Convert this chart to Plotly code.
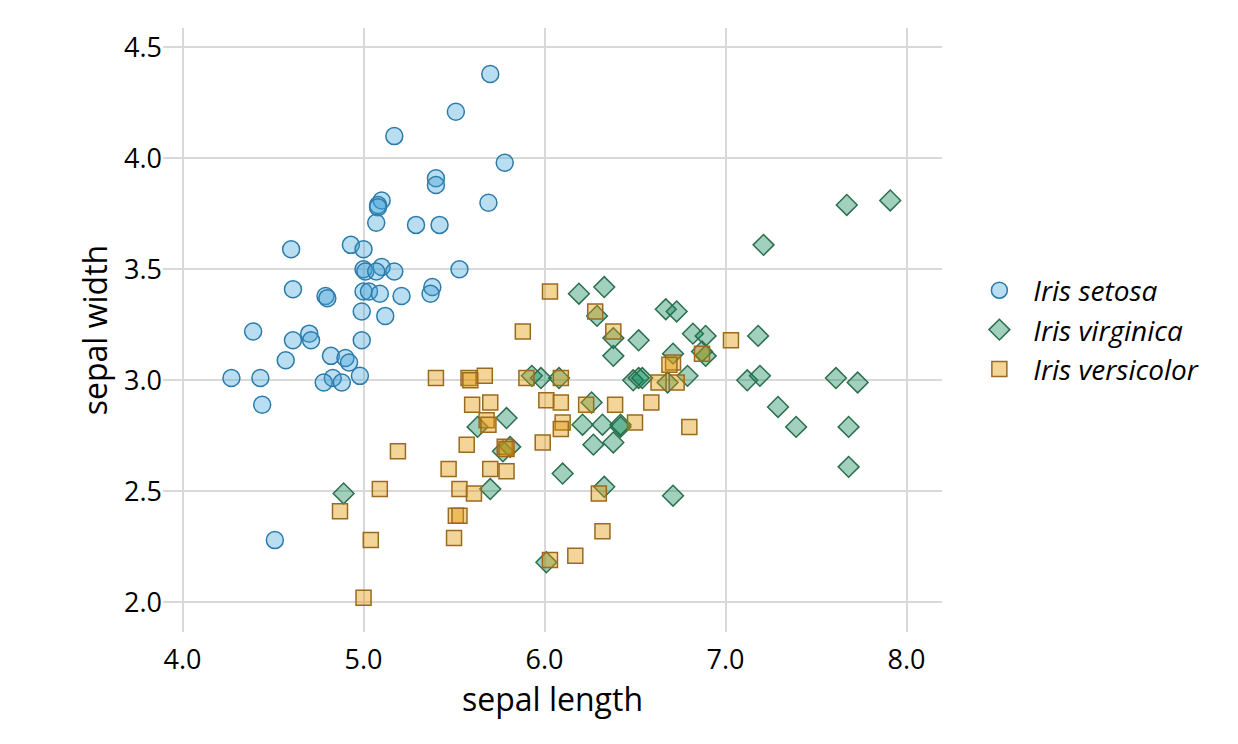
import plotly.graph_objects as go

# values (jittered iris data)
setosa_len = [5.70, 5.51, 5.17, 5.78, 5.40, 5.40, 5.10, 5.08, 5.08, 5.69,
              5.07, 5.29, 5.42, 4.60, 4.93, 5.00, 5.00, 5.01, 5.10, 5.07,
              5.17, 5.53, 4.61, 4.79, 4.80, 5.00, 5.03, 5.09, 5.21, 5.38,
              5.37, 4.99, 5.12, 4.39, 4.70, 4.71, 4.61, 4.99, 4.57, 4.82,
              4.90, 4.92, 4.27, 4.43, 4.83, 4.78, 4.88, 4.98, 4.44, 4.51]
setosa_wid = [4.38, 4.21, 4.10, 3.98, 3.91, 3.88, 3.81, 3.79, 3.78, 3.80,
              3.71, 3.70, 3.70, 3.59, 3.61, 3.59, 3.50, 3.49, 3.51, 3.49,
              3.49, 3.50, 3.41, 3.38, 3.37, 3.40, 3.40, 3.39, 3.38, 3.42,
              3.39, 3.31, 3.29, 3.22, 3.21, 3.18, 3.18, 3.18, 3.09, 3.11,
              3.10, 3.08, 3.01, 3.01, 3.01, 2.99, 2.99, 3.02, 2.89, 2.28]

virginica_len = [4.89, 5.79, 5.63, 5.77, 5.81, 5.70, 5.93, 6.19, 6.33, 6.29,
                 6.38, 6.52, 6.38, 6.67, 6.73, 6.82, 6.89, 6.71, 6.87, 6.89,
                 5.98, 6.08, 6.49, 6.52, 6.54, 6.68, 6.79, 6.26, 6.21, 6.32,
                 6.42, 6.42, 6.27, 6.38, 6.10, 6.33, 6.71, 6.01, 7.67, 7.91,
                 7.21, 7.18, 7.12, 7.19, 7.61, 7.73, 7.29, 7.39, 7.68, 7.68]
virginica_wid = [2.49, 2.83, 2.79, 2.68, 2.70, 2.51, 3.02, 3.39, 3.42, 3.29,
                 3.19, 3.18, 3.11, 3.32, 3.31, 3.21, 3.20, 3.12, 3.13, 3.11,
                 3.01, 3.01, 3.00, 3.01, 3.01, 2.99, 3.02, 2.90, 2.80, 2.80,
                 2.80, 2.79, 2.71, 2.72, 2.58, 2.52, 2.48, 2.18, 3.79, 3.81,
                 3.61, 3.20, 3.00, 3.02, 3.01, 2.99, 2.88, 2.79, 2.79, 2.61]

versicolor_len = [5.88, 5.40, 5.58, 5.59, 5.67, 5.90, 5.60, 5.70, 5.68, 5.69,
                  5.57, 5.19, 5.47, 5.70, 5.79, 5.78, 5.09, 5.53, 5.61, 4.87,
                  5.51, 5.53, 5.50, 5.04, 5.00, 6.03, 6.28, 6.38, 6.71, 6.69,
                  6.87, 6.09, 6.63, 6.73, 6.01, 6.09, 6.23, 6.39, 6.59, 6.10,
                  6.09, 6.50, 6.80, 5.99, 6.30, 6.32, 6.17, 6.03, 7.03, 5.79]
versicolor_wid = [3.22, 3.01, 3.01, 3.00, 3.02, 3.01, 2.89, 2.90, 2.82, 2.80,
                  2.71, 2.68, 2.60, 2.60, 2.59, 2.70, 2.51, 2.51, 2.49, 2.41,
                  2.39, 2.39, 2.29, 2.28, 2.02, 3.40, 3.31, 3.22, 3.08, 3.07,
                  3.12, 3.01, 2.99, 2.99, 2.91, 2.90, 2.89, 2.89, 2.90, 2.81,
                  2.78, 2.81, 2.79, 2.72, 2.49, 2.32, 2.21, 2.19, 3.18, 2.69]

x_ticks = [4, 5, 6, 7, 8]
x_labels = ["4.0", "5.0", "6.0", "7.0", "8.0"]
y_ticks = [2.0, 2.5, 3.0, 3.5, 4.0, 4.5]
y_labels = ["2.0", "2.5", "3.0", "3.5", "4.0", "4.5"]

font_name = "Open Sans"

fig = go.Figure()
fig.add_trace(go.Scatter(x=setosa_len, y=setosa_wid, mode='markers',
                         name='Iris setosa',
                         marker=dict(symbol='circle', size=17,
                                     color='rgba(60,160,215,0.36)',
                                     line=dict(color='#2B7BAA', width=1.5))))
fig.add_trace(go.Scatter(x=virginica_len, y=virginica_wid, mode='markers',
                         name='Iris virginica',
                         marker=dict(symbol='diamond', size=16,
                                     color='rgba(0,130,80,0.37)',
                                     line=dict(color='#2C6E4E', width=1.5))))
fig.add_trace(go.Scatter(x=versicolor_len, y=versicolor_wid, mode='markers',
                         name='Iris versicolor',
                         marker=dict(symbol='square', size=15,
                                     color='rgba(225,150,0,0.4)',
                                     line=dict(color='#9A6A1E', width=1.5))))

# page body has an 8px margin, so the figure is a bit smaller than the window
fig.update_layout(
    width=1230, height=736,
    paper_bgcolor='white', plot_bgcolor='white',
    margin=dict(l=155, r=296, t=20, b=112),
    font=dict(family=font_name, color='black', size=26),
    legend=dict(x=1.03, xanchor='left', y=0.5, yanchor='middle',
                font=dict(size=28, style='italic'), itemwidth=58),
    showlegend=True,
)
# invisible tick marks just to push the x labels down a little
fig.update_xaxes(range=[3.892, 8.196], tickvals=x_ticks, ticktext=x_labels,
                 showgrid=True, gridcolor='#d9d9d9', gridwidth=2,
                 zeroline=False, showline=False,
                 ticks='outside', ticklen=4, tickcolor='rgba(0,0,0,0)',
                 title=dict(text='sepal length', font=dict(size=32), standoff=0),
                 tickfont=dict(size=27))
fig.update_yaxes(range=[1.866, 4.587], tickvals=y_ticks, ticktext=y_labels,
                 showgrid=True, gridcolor='#d9d9d9', gridwidth=2,
                 zeroline=False, showline=False, ticks='',
                 title=dict(text='sepal width', font=dict(size=32), standoff=6),
                 tickfont=dict(size=27))

fig.write_html("out.html")
